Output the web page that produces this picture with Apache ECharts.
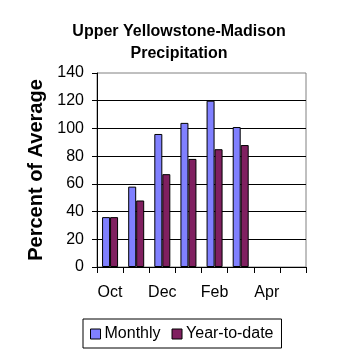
<!DOCTYPE html>
<html><head><meta charset="utf-8">
<script src="https://cdn.jsdelivr.net/npm/echarts@6/dist/echarts.min.js"></script>
<style>html,body{margin:0;padding:0;background:#fff}#c{width:358px;height:358px}</style>
</head><body><div id="c"></div>
<script>
var categories = ['Oct','Nov','Dec','Jan','Feb','Mar','Apr','May'];
var monthly = [36, 58, 96, 104, 120, 101, null, null];
var ytd = [36, 48, 67, 78, 85, 88, null, null];
var yTicks = {min: 0, max: 140, interval: 20};

var chart = echarts.init(document.getElementById('c'), null, {renderer: 'canvas'});
var ff = 'Liberation Sans, Arial, sans-serif';
chart.setOption({
  animation: false,
  backgroundColor: '#fff',
  title: {
    text: 'Upper Yellowstone-Madison\nPrecipitation',
    left: 'center', top: 16,
    textStyle: {fontFamily: ff, fontSize: 16, fontWeight: 'bold', color: '#000', lineHeight: 22}
  },
  grid: {left: 97, right: 52, top: 73, bottom: 91, show: true, borderColor: '#808080', borderWidth: 1, backgroundColor: 'transparent'},
  legend: {
    data: ['Monthly', 'Year-to-date'],
    left: 83, top: 319, width: 199,
    borderColor: '#000', borderWidth: 1, borderRadius: 0,
    padding: [7, 8, 6, 7],
    icon: 'rect', itemWidth: 10, itemHeight: 10, itemGap: 11,
    textStyle: {fontFamily: ff, fontSize: 16, color: '#000', padding: [0,0,0,-1]},
    itemStyle: {borderColor: '#000', borderWidth: 1}
  },
  xAxis: {
    type: 'category', data: categories, boundaryGap: true,
    axisLine: {show: true, lineStyle: {color: '#000', width: 1}},
    axisTick: {show: true, interval: 0, length: 6, lineStyle: {color: '#000'}},
    axisLabel: {interval: 1, fontFamily: ff, fontSize: 16, color: '#000', margin: 18}
  },
  yAxis: {
    type: 'value', min: yTicks.min, max: yTicks.max, interval: yTicks.interval,
    name: 'Percent of Average', nameLocation: 'middle', nameGap: 49,
    nameTextStyle: {fontFamily: ff, fontSize: 20, fontWeight: 'bold', color: '#000'},
    axisLine: {show: true, lineStyle: {color: '#000', width: 1}},
    axisTick: {show: true, length: 5, lineStyle: {color: '#000'}},
    axisLabel: {fontFamily: ff, fontSize: 16, color: '#000', margin: 13},
    splitLine: {show: true, showMaxLine: false, lineStyle: {color: '#000', width: 1}}
  },
  series: [
    {name: 'Monthly', type: 'bar', data: monthly, barWidth: 8, barGap: '0%',
     itemStyle: {color: '#8080FF', borderColor: '#000', borderWidth: 1}},
    {name: 'Year-to-date', type: 'bar', data: ytd, barWidth: 8, barGap: '0%',
     itemStyle: {color: '#802060', borderColor: '#000', borderWidth: 1}}
  ]
});
</script></body></html>
